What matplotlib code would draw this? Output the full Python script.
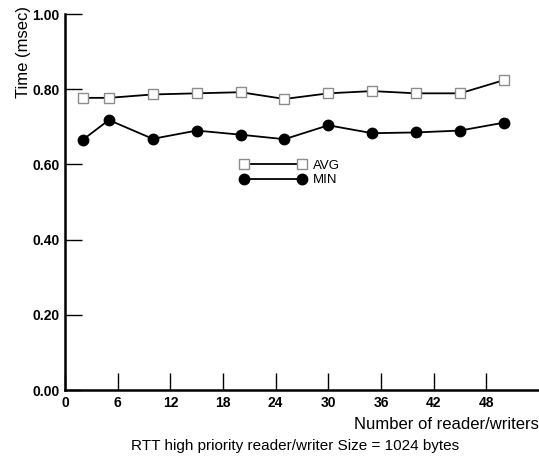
import matplotlib
matplotlib.use("Agg")
import matplotlib.pyplot as plt
from matplotlib.ticker import FormatStrFormatter

# ─── Data ─────────────────────────────────────────────────────────────────────
readers = [2, 5, 10, 15, 20, 25, 30, 35, 40, 45, 50]
avg_ms  = [0.777, 0.777, 0.786, 0.789, 0.792, 0.774, 0.789, 0.795, 0.789, 0.789, 0.824]
min_ms  = [0.665, 0.718, 0.668, 0.690, 0.679, 0.667, 0.704, 0.683, 0.685, 0.690, 0.711]

x_ticks = [0, 6, 12, 18, 24, 30, 36, 42, 48]
y_ticks = [0.0, 0.2, 0.4, 0.6, 0.8, 1.0]

plt.rcParams["font.family"] = ["Liberation Sans", "DejaVu Sans"]

fig = plt.figure(figsize=(5.39, 4.63), dpi=100)
ax  = fig.add_axes([65 / 539, 73 / 463, 1 - 65 / 539, 376 / 463])

ax.plot(readers, avg_ms, color="black", lw=1.3, marker="s", ms=7.5,
        mfc="white", mec="#8c8c8c", mew=1.0, label="AVG")
ax.plot(readers, min_ms, color="black", lw=1.3, marker="o", ms=7.5,
        mfc="black", mec="black", label="MIN")

ax.set_xlim(0, 54)
ax.set_ylim(0, 1.0)
ax.set_xticks(x_ticks)
ax.set_yticks(y_ticks)
ax.yaxis.set_major_formatter(FormatStrFormatter("%.2f"))

for s in ["top", "right"]:
    ax.spines[s].set_visible(False)
for s in ["left", "bottom"]:
    ax.spines[s].set_linewidth(1.8)
    ax.spines[s].set_zorder(0)

ax.tick_params(axis="y", direction="in", length=12, width=1.0, pad=4,
               labelsize=10)
ax.tick_params(axis="x", direction="in", length=12, width=1.0, pad=4,
               labelsize=10)
for lbl in ax.get_xticklabels() + ax.get_yticklabels():
    lbl.set_fontweight("bold")

ax.set_ylabel("Time (msec)", fontsize=12)
ax.yaxis.set_label_coords(-0.072, 0.90)
ax.set_xlabel("Number of reader/writers", fontsize=12, ha="right")
ax.xaxis.set_label_coords(1.0, -0.072)

ax.legend(loc="upper left", bbox_to_anchor=(0.345, 0.645), frameon=False,
          numpoints=2, handlelength=5.0, handletextpad=0.5, labelspacing=0.2,
          fontsize=9.5)

fig.text(295 / 539, 1 - 446 / 463, "RTT high priority reader/writer Size = 1024 bytes",
         ha="center", va="center", fontsize=11)

fig.savefig("out.png", dpi=100)
